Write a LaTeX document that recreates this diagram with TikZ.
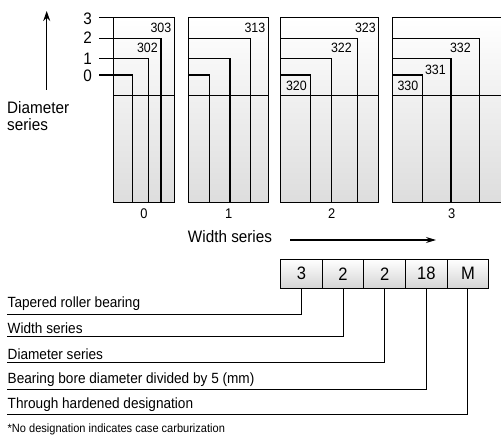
\documentclass[tikz,border=0pt]{standalone}
\usepackage{fontspec}
\setmainfont[FakeStretch=0.92]{Liberation Sans}
\usetikzlibrary{arrows.meta, positioning, calc}
\definecolor{panelgray}{HTML}{DDDDDD}
\definecolor{boxgray}{HTML}{D4D4D4}

\tikzset{
  panel/.style={draw, line width=1.4pt, top color=white, bottom color=panelgray},
  seriesline/.style={line width=1.4pt},
  codelabel/.style={font=\fontsize{13.5}{15}\selectfont, inner sep=1pt, anchor=east},
  axislabel/.style={font=\fontsize{16.6}{18}\selectfont, inner sep=0pt},
  digitbox/.style={draw, line width=1.1pt, top color=white, bottom color=boxgray, minimum width=41.6pt, minimum height=29pt, outer sep=0pt, inner sep=0pt, font=\fontsize{18}{20}\selectfont},
  partlabel/.style={font=\fontsize{14.8}{16}\selectfont, anchor=west, inner sep=0pt},
  leader/.style={line width=1.1pt}
}

\begin{document}
\begin{tikzpicture}[x=1pt, y=-1pt]
    \useasboundingbox (0,0) rectangle (501,436);

    % Diameter series axis
    \coordinate (dtail) at (46.7,90);
    \coordinate (dhead) at (46.7,11);
    \draw[-{Stealth[length=10pt, width=7pt]}, line width=1.1pt] (dtail) -- (dhead);
    \node[axislabel, anchor=north west, align=left] (dlabel) at (7,101) {Diameter\\[-1pt]series};
    \node[axislabel] (d3) at (87.5,18.5) {3};
    \node[axislabel] (d2) at (87.5,38) {2};
    \node[axislabel] (d1) at (87.5,58.5) {1};
    \node[axislabel] (d0) at (87.5,76) {0};

    % Width series 0
    \draw[panel] (113.7,17.3) rectangle (174.3,202.7);
    \draw[seriesline] (113.7,95.7) -- (174.3,95.7);
    \draw[seriesline] (99.3,17.3) -- (113.7,17.3);
    \draw[seriesline] (99.3,38.3) -| (161,202.7);
    \draw[seriesline] (99.3,58.7) -| (148.7,202.7);
    \draw[seriesline] (99.3,75) -| (132.7,202.7);
    \node[codelabel] (c303) at (172.5,28) {303};
    \node[codelabel] (c302) at (159,48) {302};

    % Width series 1
    \draw[panel] (188.5,17.3) rectangle (268.3,202.7);
    \draw[seriesline] (188.5,95.7) -- (268.3,95.7);
    \draw[seriesline] (188.5,38.3) -| (250.3,202.7);
    \draw[seriesline] (188.5,58.7) -| (230,202.7);
    \draw[seriesline] (188.5,75) -| (209.3,202.7);
    \node[codelabel] (c313) at (266.5,28) {313};

    % Width series 2
    \draw[panel] (280.7,17.3) rectangle (378.7,202.7);
    \draw[seriesline] (280.7,95.7) -- (378.7,95.7);
    \draw[seriesline] (280.7,38.3) -| (357.7,202.7);
    \draw[seriesline] (280.7,58.7) -| (331.3,202.7);
    \draw[seriesline] (280.7,75) -| (310.7,202.7);
    \node[codelabel] (c323) at (377,28) {323};
    \node[codelabel] (c322) at (353,48) {322};
    \node[codelabel] (c320) at (308,86) {320};

    % Width series 3
    \draw[panel] (392.3,17.3) rectangle (510,202.7);
    \draw[seriesline] (392.3,95.7) -- (510,95.7);
    \draw[seriesline] (392.3,38.3) -| (479.3,202.7);
    \draw[seriesline] (392.3,58.7) -| (451,202.7);
    \draw[seriesline] (392.3,75) -| (422.5,202.7);
    \node[codelabel] (c332) at (472,48) {332};
    \node[codelabel] (c331) at (447,70) {331};
    \node[codelabel] (c330) at (419.5,86) {330};

    % Width series numbers
    \node[font=\fontsize{14}{16}\selectfont] (w0) at (144,213.5) {0};
    \node[font=\fontsize{14}{16}\selectfont] (w1) at (228.7,213.5) {1};
    \node[font=\fontsize{14}{16}\selectfont] (w2) at (331.7,213.5) {2};
    \node[font=\fontsize{14}{16}\selectfont] (w3) at (451.7,213.5) {3};

    % Width series axis
    \node[axislabel] (wlabel) at (230,236.5) {Width series};
    \coordinate (wtail) at (290,240);
    \coordinate (whead) at (436,240);
    \draw[-{Stealth[length=10pt, width=6pt]}, line width=1.1pt] (wtail) -- (whead);

    % Designation boxes
    \node[digitbox] (b1) at (301.5,273.8) {3};
    \node[digitbox, right=0pt of b1] (b2) {2};
    \node[digitbox, right=0pt of b2] (b3) {2};
    \node[digitbox, right=0pt of b3] (b4) {18};
    \node[digitbox, right=0pt of b4] (b5) {M};

    % Leader lines and meanings
    \coordinate (l1) at (7.3,314.3);
    \coordinate (l2) at (7.3,336.7);
    \coordinate (l3) at (7.3,362.7);
    \coordinate (l4) at (7.3,389.3);
    \coordinate (l5) at (7.3,414.3);
    \draw[leader] (b1.south) |- (l1);
    \draw[leader] (b2.south) |- (l2);
    \draw[leader] (b3.south) |- (l3);
    \draw[leader] (b4.south) |- (l4);
    \draw[leader] (b5.south) |- (l5);
    \node[partlabel] (t1) at (7.5,304) {Tapered roller bearing};
    \node[partlabel] (t2) at (7.5,328.3) {Width series};
    \node[partlabel] (t3) at (7.5,354.3) {Diameter series};
    \node[partlabel] (t4) at (7.5,380) {Bearing bore diameter divided by 5 (mm)};
    \node[partlabel] (t5) at (7.5,404.3) {Through hardened designation};
    \node[partlabel, font=\fontsize{12}{14}\selectfont] (note) at (7.5,429.3) {*No designation indicates case carburization};
\end{tikzpicture}
\end{document}
